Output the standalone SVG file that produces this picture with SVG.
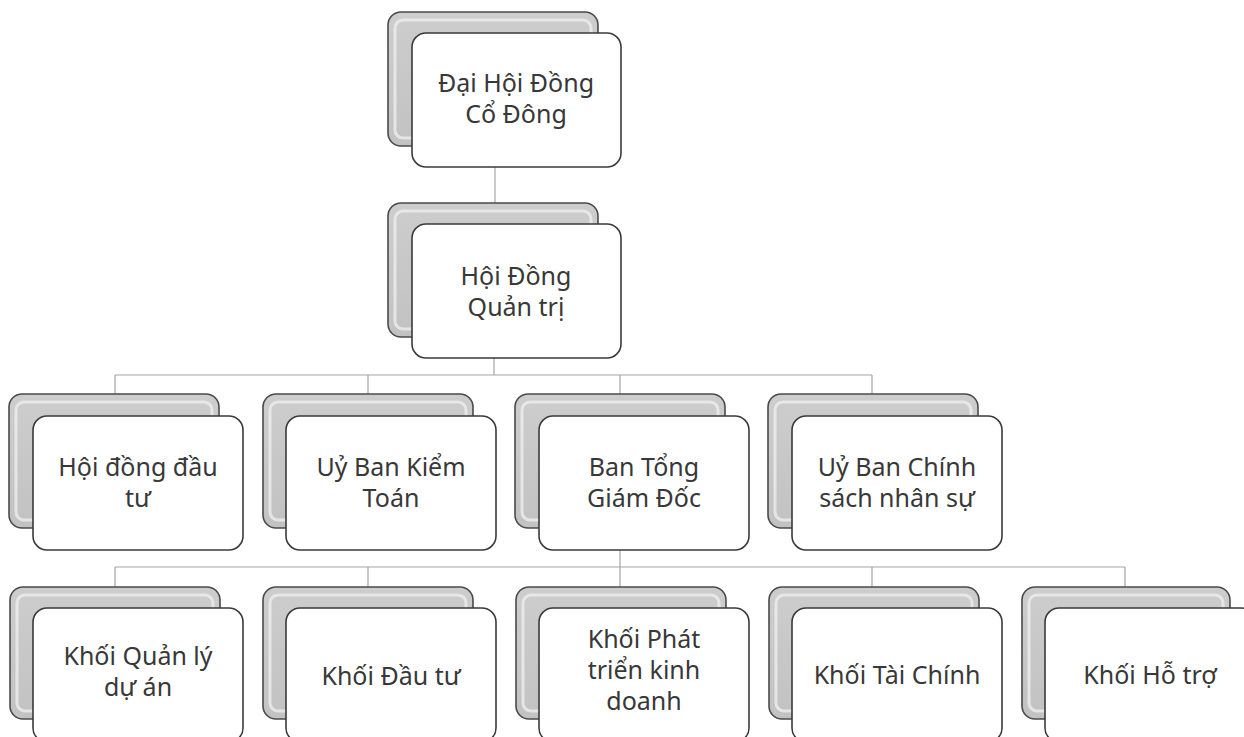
<svg xmlns="http://www.w3.org/2000/svg" width="1244" height="737" viewBox="0 0 1244 737">
<defs>
<linearGradient id="bg" x1="0" y1="0" x2="0" y2="1">
<stop offset="0" stop-color="#cdcdcd"/>
<stop offset="1" stop-color="#c2c2c2"/>
</linearGradient>
</defs>
<style>
.back{fill:url(#bg);stroke:#4a4a4a;stroke-width:1.6}
.hl{fill:none;stroke:#eeeeee;stroke-width:3;opacity:0.8}
.front{fill:#fff;stroke:#3a3a3a;stroke-width:1.6}
.t{font-family:"Noto Sans","Open Sans","DejaVu Sans",sans-serif;font-size:25px;fill:#383838;text-anchor:middle}
.c{fill:none;stroke:#a6a6a6;stroke-width:1.2}
</style>
<rect width="1244" height="737" fill="#fff"/>
<g id="connectors">
<path class="c" d="M495 167V203"/>
<path class="c" d="M494 358V375M115 375H872M115 375V394M368 375V394M620 375V394M872 375V394"/>
<path class="c" d="M620 550V567M115 567H1125M115 567V587M368 567V587M620 567V587M872 567V587M1125 567V587"/>
</g>
<g id="n-dhdcd">
<rect class="back" x="388" y="12" width="210" height="134" rx="13"/>
<rect class="hl" x="395" y="20" width="196" height="118" rx="8"/>
<rect class="front" x="412" y="33" width="209" height="134" rx="14"/>
<text class="t" x="516" y="92">Đại Hội Đồng<tspan x="516" dy="31">Cổ Đông</tspan></text>
</g>
<g id="n-hdqt">
<rect class="back" x="388" y="203" width="210" height="134" rx="13"/>
<rect class="hl" x="395" y="211" width="196" height="118" rx="8"/>
<rect class="front" x="412" y="224" width="209" height="134" rx="14"/>
<text class="t" x="516" y="285">Hội Đồng<tspan x="516" dy="31">Quản trị</tspan></text>
</g>
<g id="n-hddt">
<rect class="back" x="9" y="394" width="210" height="134" rx="13"/>
<rect class="hl" x="16" y="402" width="196" height="118" rx="8"/>
<rect class="front" x="33" y="416" width="210" height="134" rx="14"/>
<text class="t" x="138" y="476">Hội đồng đầu<tspan x="138" dy="31">tư</tspan></text>
</g>
<g id="n-ubkt">
<rect class="back" x="263" y="394" width="210" height="134" rx="13"/>
<rect class="hl" x="270" y="402" width="196" height="118" rx="8"/>
<rect class="front" x="286" y="416" width="210" height="134" rx="14"/>
<text class="t" x="391" y="476">Uỷ Ban Kiểm<tspan x="391" dy="31">Toán</tspan></text>
</g>
<g id="n-btgd">
<rect class="back" x="515" y="394" width="210" height="134" rx="13"/>
<rect class="hl" x="522" y="402" width="196" height="118" rx="8"/>
<rect class="front" x="539" y="416" width="210" height="134" rx="14"/>
<text class="t" x="644" y="476">Ban Tổng<tspan x="644" dy="31">Giám Đốc</tspan></text>
</g>
<g id="n-ubcs">
<rect class="back" x="768" y="394" width="210" height="134" rx="13"/>
<rect class="hl" x="775" y="402" width="196" height="118" rx="8"/>
<rect class="front" x="792" y="416" width="210" height="134" rx="14"/>
<text class="t" x="897" y="476">Uỷ Ban Chính<tspan x="897" dy="31">sách nhân sự</tspan></text>
</g>
<g id="n-kqlda">
<rect class="back" x="10" y="587" width="210" height="132" rx="13"/>
<rect class="hl" x="17" y="595" width="196" height="116" rx="8"/>
<rect class="front" x="33" y="608" width="210" height="134" rx="14"/>
<text class="t" x="138" y="665">Khối Quản lý<tspan x="138" dy="31">dự án</tspan></text>
</g>
<g id="n-kdt">
<rect class="back" x="263" y="587" width="210" height="132" rx="13"/>
<rect class="hl" x="270" y="595" width="196" height="116" rx="8"/>
<rect class="front" x="286" y="608" width="210" height="134" rx="14"/>
<text class="t" x="391" y="685">Khối Đầu tư</text>
</g>
<g id="n-kptkd">
<rect class="back" x="516" y="587" width="210" height="132" rx="13"/>
<rect class="hl" x="523" y="595" width="196" height="116" rx="8"/>
<rect class="front" x="539" y="608" width="210" height="134" rx="14"/>
<text class="t" x="644" y="648">Khối Phát<tspan x="644" dy="31">triển kinh</tspan><tspan x="644" dy="31">doanh</tspan></text>
</g>
<g id="n-ktc">
<rect class="back" x="769" y="587" width="210" height="132" rx="13"/>
<rect class="hl" x="776" y="595" width="196" height="116" rx="8"/>
<rect class="front" x="792" y="608" width="210" height="134" rx="14"/>
<text class="t" x="897" y="684">Khối Tài Chính</text>
</g>
<g id="n-kht">
<rect class="back" x="1022" y="587" width="208" height="132" rx="13"/>
<rect class="hl" x="1029" y="595" width="194" height="116" rx="8"/>
<rect class="front" x="1045" y="608" width="210" height="134" rx="14"/>
<text class="t" x="1150" y="684">Khối Hỗ trợ</text>
</g>
</svg>
